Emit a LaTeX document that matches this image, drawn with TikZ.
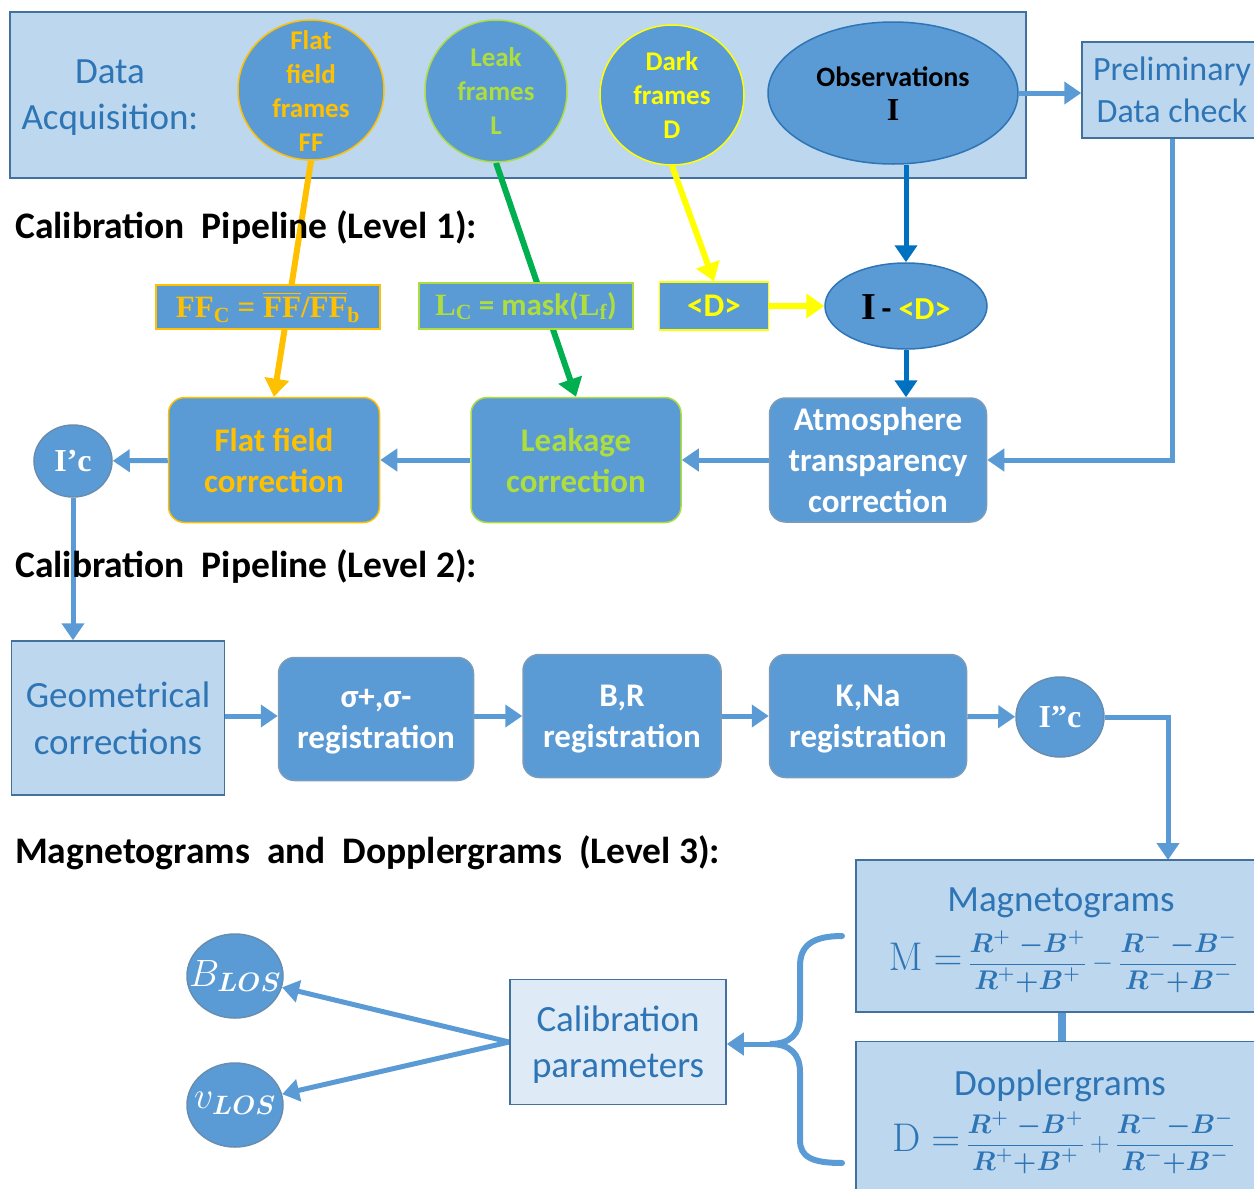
\RequirePackage{fix-cm}
\documentclass[tikz,border=0pt]{standalone}
\usepackage{amsmath}
\usepackage{amssymb}
\usepackage[no-math]{fontspec}
\setmainfont{Carlito}
\newfontfamily\serif{Liberation Serif}
\usepackage{tikz}
\usetikzlibrary{shapes.geometric,arrows.meta}
\pgfdeclarelayer{backdrop}
\pgfdeclarelayer{edgelayer}
\pgfsetlayers{backdrop,edgelayer,main}
\definecolor{lightblue}{HTML}{BDD7EE}
\definecolor{paleblue}{HTML}{DEEBF7}
\definecolor{midblue}{HTML}{5B9BD5}
\definecolor{edgeblue}{HTML}{41719C}
\definecolor{textblue}{HTML}{2E75B6}
\definecolor{feedblue}{HTML}{0070C0}
\definecolor{fforange}{HTML}{FFC000}
\definecolor{leaklime}{HTML}{AEDD3E}
\definecolor{leakgreen}{HTML}{00B050}
\definecolor{darkyellow}{HTML}{FFFF00}
\newcommand{\sz}[2]{\fontsize{#1}{#2}\selectfont}
\newcommand{\ratio}[1]{\dfrac{\boldsymbol{R^{#1}\;{-}B^{#1}}}{\boldsymbol{R^{#1}{+}B^{#1}}}}
\tikzstyle{panel}=[rectangle, draw=edgeblue, fill=lightblue, line width=1.5pt, inner sep=0pt]
\tikzstyle{panel_text}=[align=center, text=textblue, font=\sz{37}{46}, inner sep=0pt, text depth=0pt]
\tikzstyle{formula}=[align=center, text=textblue, font=\sz{27}{32}, inner sep=0pt]
\tikzstyle{stage}=[rectangle, rounded corners=16pt, draw=edgeblue!70, fill=midblue, line width=1.5pt, inner sep=0pt, align=center, text=white, font=\bfseries\sz{33}{41}, text depth=0pt]
\tikzstyle{blob}=[ellipse, draw=edgeblue!80, fill=midblue, line width=1.5pt, inner sep=0pt]
\tikzstyle{blob_text}=[align=center, inner sep=0pt, font=\bfseries\sz{27}{34}]
\tikzstyle{tag}=[rectangle, fill=midblue, line width=1.5pt, inner sep=0pt]
\tikzstyle{heading}=[anchor=west, inner sep=0pt, font=\bfseries\sz{37.5}{44}]
\tikzstyle{flow_edge}=[draw=midblue, line width=5pt, -{Triangle[width=22pt,length=17pt]}]
\tikzstyle{feed_edge}=[draw=feedblue, line width=5pt, -{Triangle[width=22pt,length=17pt]}]
\tikzstyle{ff_edge}=[draw=fforange, line width=6pt, -{Triangle[width=24pt,length=18pt]}]
\tikzstyle{leak_edge}=[draw=leakgreen, line width=6pt, -{Triangle[width=24pt,length=18pt]}]
\tikzstyle{dark_edge}=[draw=darkyellow, line width=6pt, -{Triangle[width=24pt,length=18pt]}]
\tikzstyle{link_edge}=[-, draw=midblue, line width=8pt]
\tikzstyle{brace_edge}=[-, draw=midblue, line width=6pt, line cap=round]

\begin{document}
\begin{tikzpicture}[x=1pt, y=-1pt]
        \useasboundingbox (0, 0) rectangle (1254, 1189);
        \clip (0, 0) rectangle (1254, 1189);
        % data acquisition
        \begin{pgfonlayer}{backdrop}
        \node [panel, minimum width=1016, minimum height=166] (acq) at (518, 95) {};
        \end{pgfonlayer}
        \node [panel_text] (acq_label) at (110, 95) {Data\\Acquisition:};
        \node [blob, draw=fforange, minimum width=146, minimum height=140] (ff) at (311, 90) {};
        \node [blob_text, text=fforange] (ff_label) at (311, 91) {Flat\\field\\frames\\FF};
        \node [blob, draw=leaklime, minimum width=142, minimum height=142] (lk) at (496, 91) {};
        \node [blob_text, text=leaklime] (lk_label) at (496, 91) {Leak\\frames\\L};
        \node [blob, draw=darkyellow, minimum width=144, minimum height=140] (dk) at (672, 95) {};
        \node [blob_text, text=darkyellow] (dk_label) at (672, 95) {Dark\\frames\\D};
        \node [blob, draw=textblue, minimum width=250, minimum height=142] (obs) at (893, 93) {};
        \node [blob_text, text=black] (obs_label) at (893, 94) {\sz{28}{36}Observations\\{\serif\sz{32}{36}I}};
        \node [panel, panel_text, font=\sz{34}{42}, minimum width=180, minimum height=96] (prelim) at (1172, 90) {Preliminary\\Data check};

        % level 1
        \node [heading] (head_one) at (15, 228) {Calibration~ Pipeline (Level~1):};
        \node [tag, draw=fforange, text=fforange, minimum width=224, minimum height=44] (ffc) at (268, 307) {\bfseries\serif\sz{31}{34}FF\textsubscript{C} = $\overline{\hbox{FF}}$/$\overline{\hbox{FF}}$\textsubscript{b}};
        \node [tag, draw=leaklime, text=leaklime, minimum width=214, minimum height=46] (lc) at (526, 306) {\bfseries\sz{31}{34}{\serif L\textsubscript{C}} = mask({\serif L\textsubscript{f}})};
        \node [tag, draw=darkyellow, text=darkyellow, minimum width=109, minimum height=48] (dmean) at (714, 306) {\bfseries\sz{33}{36}<D>};
        \node [blob, draw=textblue, minimum width=162, minimum height=86] (isub) at (906, 306) {};
        \node [blob_text] (isub_label) at (906, 307) {{\serif\sz{38}{40}I}\sz{32}{36}\,- \textcolor{darkyellow}{<D>}};
        \node [stage, minimum width=217, minimum height=124] (atm) at (878, 460) {Atmosphere\\transparency\\correction};
        \node [stage, draw=leaklime, text=leaklime, minimum width=210, minimum height=125] (lkc) at (576, 460) {Leakage\\correction};
        \node [stage, draw=fforange, text=fforange, minimum width=211, minimum height=125] (ffcorr) at (274, 460) {Flat field\\correction};
        \node [blob, minimum width=78, minimum height=72] (ic) at (73, 461) {};
        \node [blob_text, text=white] (ic_label) at (73, 461) {\serif\sz{32}{36}I’c};

        % level 2
        \node [heading] (head_two) at (15, 567) {Calibration~ Pipeline (Level~2):};
        \node [panel, panel_text, font=\sz{37}{47}, minimum width=213, minimum height=154] (geo) at (118, 718) {Geometrical\\corrections};
        \node [stage, minimum width=195, minimum height=123] (sig) at (376, 719) {σ+,σ-\\registration};
        \node [stage, minimum width=198, minimum height=123] (br) at (622, 716) {B,R\\registration};
        \node [stage, minimum width=197, minimum height=123] (kna) at (868, 716) {K,Na\\registration};
        \node [blob, minimum width=88, minimum height=80] (icc) at (1060, 717) {};
        \node [blob_text, text=white] (icc_label) at (1060, 717) {\serif\sz{32}{36}I”c};

        % level 3
        \node [heading] (head_three) at (15, 853) {Magnetograms~ and~ Dopplergrams~ (Level~3):};
        \node [panel, minimum width=412, minimum height=152] (mag) at (1062, 936) {};
        \node [panel_text] (mag_label) at (1061, 900) {Magnetograms};
        \node [formula] (mag_eq) at (1063, 962) {{\sz{40}{44}$\mathrm{M} =$} $\ratio{+} - \ratio{-}$};
        \node [panel, minimum width=412, minimum height=159] (dop) at (1062, 1121) {};
        \node [panel_text] (dop_label) at (1060, 1083) {Dopplergrams};
        \node [formula] (dop_eq) at (1063, 1143) {{\sz{40}{44}$\mathrm{D} =$} $\ratio{+} + \ratio{-}$};
        \node [panel, panel_text, fill=paleblue, minimum width=216, minimum height=125] (calib) at (618, 1042) {Calibration\\parameters};
        \node [blob, minimum width=96, minimum height=84] (blos) at (235, 976) {};
        \node [blob_text, text=white, font=\sz{38}{40}] (blos_label) at (235, 976) {$B_{\boldsymbol{LOS}}$};
        \node [blob, minimum width=96, minimum height=84] (vlos) at (235, 1105) {};
        \node [blob_text, text=white, font=\sz{38}{40}] (vlos_label) at (235, 1103) {$v_{\boldsymbol{LOS}}$};
        \coordinate (mag_in) at (1168, 860);
        \coordinate (brace_tip) at (770, 1044);

        \begin{pgfonlayer}{edgelayer}
        \draw[style={ff_edge}]{} (ff.south) to (ffcorr.north);
        \draw[style={leak_edge}]{} (lk.south) to (lkc.north);
        \draw[style={dark_edge}]{} (dk.south) to (dmean.north);
        \draw[style={dark_edge}]{} (dmean) to (isub);
        \draw[style={feed_edge}]{} (isub.north |- obs.south) to (isub.north);
        \draw[style={feed_edge}]{} (isub.south) to (isub.south |- atm.north);
        \draw[style={flow_edge}]{} (obs.east) to (prelim.west |- obs.east);
        \draw[style={flow_edge}]{} (prelim.south) |- (atm.east);
        \draw[style={flow_edge}]{} (atm) to (lkc);
        \draw[style={flow_edge}]{} (lkc) to (ffcorr);
        \draw[style={flow_edge}]{} (ffcorr) to (ic);
        \draw[style={flow_edge}]{} (ic.south) to (ic.south |- geo.north);
        \draw[style={flow_edge}]{} (geo.east |- br) to (sig.west |- br);
        \draw[style={flow_edge}]{} (sig.east |- br) to (br);
        \draw[style={flow_edge}]{} (br) to (kna);
        \draw[style={flow_edge}]{} (kna) to (icc);
        \draw[style={flow_edge}]{} (icc.east) -| (mag_in);
        \draw[style={link_edge}]{} (mag) to (dop);
        \draw[style={brace_edge}]{} (842, 936) .. controls (812, 936) and (800, 946) .. (800, 966) -- (800, 1016) .. controls (800, 1034) and (790, 1044) .. (brace_tip) .. controls (790, 1044) and (800, 1054) .. (800, 1072) -- (800, 1140) .. controls (800, 1157) and (812, 1163) .. (842, 1163);
        \draw[style={flow_edge}]{} (brace_tip) to (calib.east |- brace_tip);
        \draw[style={flow_edge}]{} (calib.west) to (blos);
        \draw[style={flow_edge}]{} (calib.west) to (vlos);
        \end{pgfonlayer}
    \end{tikzpicture}
\end{document}
